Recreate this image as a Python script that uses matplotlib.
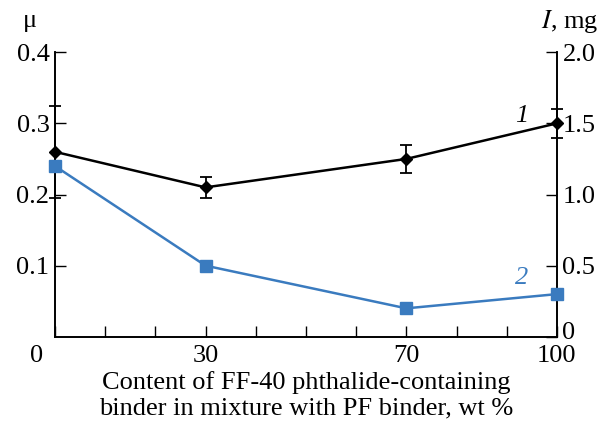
import matplotlib
matplotlib.use("Agg")
import matplotlib.pyplot as plt
import matplotlib.transforms as mtransforms

content = [0, 30, 70, 100]
mu = [0.26, 0.21, 0.25, 0.30]
mu_err = [0.065, 0.015, 0.02, 0.02]
wear = [1.2, 0.5, 0.2, 0.3]
xtick_labels = {0: "0", 30: "30", 70: "70", 100: "100"}

plt.rcParams['font.family'] = ['Liberation Serif', 'DejaVu Serif']
plt.rcParams['mathtext.fontset'] = 'stix'

fig = plt.figure(figsize=(6.04, 4.21), dpi=100)
ax = fig.add_axes([0.091, 0.2, 0.831, 0.676])
ax2 = ax.twinx()

blue = '#3a7bbf'
ax.errorbar(content, mu, yerr=mu_err, color='black', lw=1.8, marker='D', ms=6,
            capsize=4, elinewidth=1.3, capthick=1.3, zorder=5, clip_on=False)
ax2.plot(content, wear, color=blue, lw=1.8, marker='s', ms=8, zorder=4, clip_on=False)

ax.set_xlim(0, 100)
ax.set_ylim(0, 0.4)
ax2.set_ylim(0, 2.0)

ax.set_xticks(list(range(0, 101, 10)))
ax.set_xticklabels([xtick_labels.get(v, "") for v in range(0, 101, 10)])
ax.set_yticks([0.1, 0.2, 0.3, 0.4])
ax.set_yticklabels(["0.1", "0.2", "0.3", "0.4"])
ax2.set_yticks([0, 0.5, 1.0, 1.5, 2.0])
ax2.set_yticklabels(["0", "0.5", "1.0", "1.5", "2.0"])

for a in (ax, ax2):
    a.spines['top'].set_visible(False)
    for s in a.spines.values():
        s.set_linewidth(1.2)
ax.tick_params(axis='both', direction='in', length=8, width=1.0, labelsize=19, pad=4)
ax.tick_params(axis='x', pad=6)
ax2.tick_params(axis='y', direction='in', length=8, width=1.0, labelsize=19, pad=4)

# shift the "0" x tick label left
lab0 = ax.get_xticklabels()[0]
lab0.set_transform(lab0.get_transform() + mtransforms.ScaledTranslation(-18/100, 0, fig.dpi_scale_trans))
# lift the right-axis "0"
r0 = ax2.get_yticklabels()[0]
r0.set_transform(r0.get_transform() + mtransforms.ScaledTranslation(0, 6/100, fig.dpi_scale_trans))

ax.set_xlabel("Content of FF-40 phthalide-containing\nbinder in mixture with PF binder, wt %",
              fontsize=19, labelpad=3, linespacing=1.2)

fig.text(0.05, 0.95, "μ", fontsize=19, ha='center', va='center')
fig.text(0.99, 0.95, "$\\mathit{I}$, mg", fontsize=19, ha='right', va='center')
ax.text(93, 0.311, "1", fontsize=19, style='italic', color='black', ha='center', va='center')
ax.text(93, 0.083, "2", fontsize=19, style='italic', color=blue, ha='center', va='center')

fig.savefig("out.png", dpi=100)
